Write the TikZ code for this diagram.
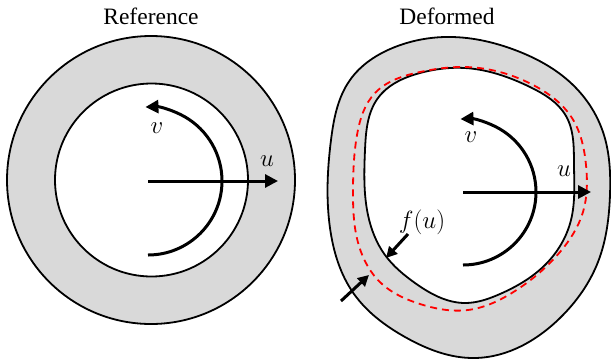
\documentclass[tikz,border=0pt]{standalone}
\usepackage{fontspec}
\setmainfont{Liberation Serif}
\usetikzlibrary{arrows.meta,hobby}
\begin{document}
\begin{tikzpicture}[x=1pt,y=-1pt,
  ring/.style={draw=black,line width=1.8pt},
  band/.style={ring,fill=bandgray},
  hole/.style={ring,fill=white},
  axisarrow/.style={line width=3pt,-{Triangle[length=13pt,width=13pt]}},
  rotarrow/.style={line width=3pt,-{Triangle[length=13pt,width=13pt]}},
  smallarrow/.style={line width=3pt,-{Triangle[length=11pt,width=11pt]}},
  offsetline/.style={draw=red,line width=1.8pt,dash pattern=on 7pt off 5pt},
  title/.style={font=\fontsize{23.5}{26}\selectfont,inner sep=0pt},
  mathlabel/.style={font=\fontsize{27}{29}\selectfont,inner sep=0pt}
]
\definecolor{bandgray}{HTML}{D9D9D9}
\useasboundingbox (0,0) rectangle (611,360);

% ---------- Reference ----------
\node[title] (t1) at (151,16) {Reference};
\draw[band] (151,180) circle[radius=144pt];
\draw[hole] (151.5,180) circle[radius=96.5pt];
\coordinate (c1) at (148,181);
\coordinate (u1end) at (278,181);
\draw[axisarrow] (c1) -- (u1end);
\coordinate (v1start) at (148,255);
\draw[rotarrow] (v1start) arc[start angle=-90,end angle=92,radius=74pt];
\node[mathlabel] (u1) at (267,161) {$u$};
\node[mathlabel] (v1) at (157,128) {$v$};

% ---------- Deformed ----------
\node[title] (t2) at (447,16) {Deformed};
\draw[band,use Hobby shortcut,closed=true]
 (445,37) .. (515,50) .. (572,84) .. (603,132) .. (610,195) .. (598,262)
 .. (560,318) .. (475,358) .. (405,337) .. (354,294) .. (330,228)
 .. (331,140) .. (350,80) .. (395,47);
\draw[hole,use Hobby shortcut,closed=true]
 (465,68) .. (530,87) .. (566,116) .. (574,165) .. (571,220) .. (545,265)
 .. (500,294) .. (465,303) .. (415,283) .. (385,255) .. (368,215)
 .. (365,150) .. (378,98) .. (420,73);
\draw[offsetline,use Hobby shortcut,closed=true]
 (465,67) .. (535,86) .. (572,118) .. (586,165) .. (583,212) .. (560,252)
 .. (515,291) .. (468,310) .. (420,304) .. (382,284) .. (359,246)
 .. (353,190) .. (357,135) .. (375,93) .. (420,72);
\coordinate (c2) at (463,192);
\coordinate (u2end) at (591,192);
\draw[axisarrow] (c2) -- (u2end);
\coordinate (v2start) at (463,265);
\draw[rotarrow] (v2start) arc[start angle=-90,end angle=92,radius=73pt];
\node[mathlabel] (u2) at (564,171) {$u$};
\node[mathlabel] (v2) at (471,137) {$v$};
\node[mathlabel] (f) at (422,222) {$f(u)$};
\coordinate (a1s) at (408,234);
\coordinate (a1e) at (386,258);
\draw[smallarrow] (a1s) -- (a1e);
\coordinate (a2s) at (341,301);
\coordinate (a2e) at (369,275);
\draw[smallarrow] (a2s) -- (a2e);
\end{tikzpicture}
\end{document}
